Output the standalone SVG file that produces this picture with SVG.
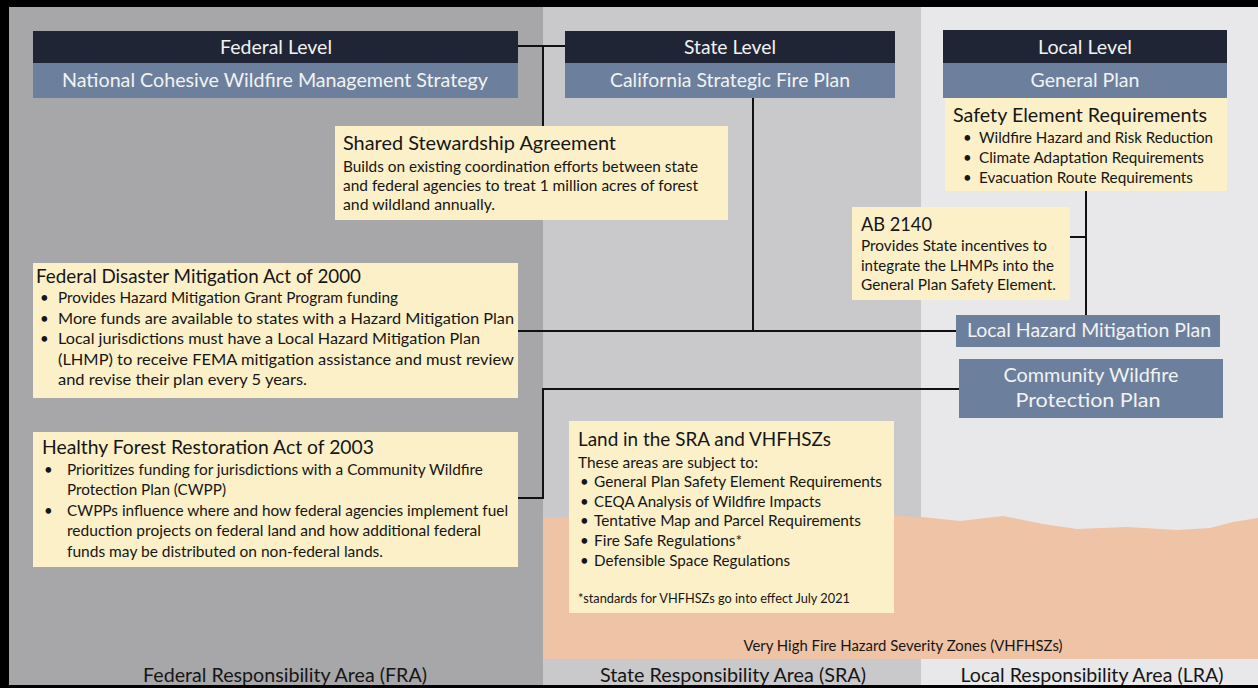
<svg xmlns="http://www.w3.org/2000/svg" width="1258" height="688" viewBox="0 0 1258 688">
<style>
text{font-family:Lato,"Open Sans","Liberation Sans",sans-serif;fill:#161616}
.hd{font-size:20px;fill:#f2f2f2;text-anchor:middle}
.bl{font-size:19.5px;fill:#f2f2f2;text-anchor:middle}
.ttl{font-size:20px}
.bd{font-size:15px}
.ft{font-size:12.5px}
.bot{font-size:18.5px;text-anchor:middle}
.vh{font-size:14.5px;text-anchor:middle}
.dark{fill:#1f2535}
.blue{fill:#6c809d}
.yel{fill:#fcf0c8}
.con{fill:none;stroke:#111;stroke-width:2}
</style>
<g id="background">
<rect x="0" y="0" width="1258" height="688" fill="#e8e8ea"/>
<rect x="9" y="7" width="534" height="678" fill="#a7a6a8"/>
<rect x="543" y="7" width="378" height="678" fill="#c9c9cc"/>
<rect x="921" y="7" width="337" height="678" fill="#e8e8ea"/>
<path d="M543,518 L570,517 L895,516 L922,517 L960,521 L1003,516 L1043,524 L1077,529 L1127,527 L1177,530 L1210,528 L1233,522 L1258,518 L1258,659 L543,659 Z" fill="#efc3a5"/>
<rect x="0" y="0" width="1258" height="7" fill="#000"/>
<rect x="0" y="0" width="9" height="688" fill="#000"/>
<rect x="0" y="685" width="1258" height="3" fill="#000"/>
<text class="vh" x="903" y="651" textLength="319" lengthAdjust="spacingAndGlyphs">Very High Fire Hazard Severity Zones (VHFHSZs)</text>
<text class="bot" x="285" y="682" textLength="284" lengthAdjust="spacingAndGlyphs">Federal Responsibility Area (FRA)</text>
<text class="bot" x="733" y="682" textLength="266" lengthAdjust="spacingAndGlyphs">State Responsibility Area (SRA)</text>
<text class="bot" x="1092" y="682" textLength="263" lengthAdjust="spacingAndGlyphs">Local Responsibility Area (LRA)</text>
</g>
<g id="connectors">
<polyline class="con" points="518,46 565,46"/>
<polyline class="con" points="543,46 543,126"/>
<polyline class="con" points="753,97 753,331"/>
<polyline class="con" points="518,331 956,331"/>
<polyline class="con" points="1086,191 1086,315"/>
<polyline class="con" points="1070,237 1086,237"/>
<polyline class="con" points="959,389 543,389 543,498 518,498"/>
</g>
<g id="federal-level">
<rect class="dark" x="33" y="31" width="485" height="32"/>
<rect class="blue" x="33" y="63" width="485" height="35"/>
<text class="hd" x="276" y="54" textLength="112" lengthAdjust="spacingAndGlyphs">Federal Level</text>
<text class="hd" x="275" y="87" textLength="426" lengthAdjust="spacingAndGlyphs">National Cohesive Wildfire Management Strategy</text>
</g>
<g id="state-level">
<rect class="dark" x="565" y="31" width="330" height="32"/>
<rect class="blue" x="565" y="63" width="330" height="35"/>
<text class="hd" x="730" y="54" textLength="92" lengthAdjust="spacingAndGlyphs">State Level</text>
<text class="hd" x="730" y="87" textLength="240" lengthAdjust="spacingAndGlyphs">California Strategic Fire Plan</text>
</g>
<g id="local-level">
<rect class="dark" x="943" y="30" width="284" height="33"/>
<rect class="blue" x="943" y="63" width="284" height="35"/>
<text class="hd" x="1085" y="54" textLength="94" lengthAdjust="spacingAndGlyphs">Local Level</text>
<text class="hd" x="1085" y="87" textLength="109" lengthAdjust="spacingAndGlyphs">General Plan</text>
</g>
<g id="safety-element">
<rect class="yel" x="945" y="98" width="282" height="93"/>
<text class="ttl" x="953" y="122" textLength="254" lengthAdjust="spacingAndGlyphs">Safety Element Requirements</text>
<text class="bd" x="963" y="143">•</text>
<text class="bd" x="979" y="143" textLength="234" lengthAdjust="spacingAndGlyphs">Wildfire Hazard and Risk Reduction</text>
<text class="bd" x="963" y="163">•</text>
<text class="bd" x="979" y="163" textLength="225" lengthAdjust="spacingAndGlyphs">Climate Adaptation Requirements</text>
<text class="bd" x="963" y="183">•</text>
<text class="bd" x="979" y="183" textLength="214" lengthAdjust="spacingAndGlyphs">Evacuation Route Requirements</text>
</g>
<g id="shared-stewardship">
<rect class="yel" x="335" y="126" width="393" height="94"/>
<text class="ttl" x="343" y="150" textLength="273" lengthAdjust="spacingAndGlyphs">Shared Stewardship Agreement</text>
<text class="bd" x="343" y="172" textLength="355" lengthAdjust="spacingAndGlyphs">Builds on existing coordination efforts between state</text>
<text class="bd" x="343" y="191" textLength="355" lengthAdjust="spacingAndGlyphs">and federal agencies to treat 1 million acres of forest</text>
<text class="bd" x="343" y="210" textLength="152" lengthAdjust="spacingAndGlyphs">and wildland annually.</text>
</g>
<g id="ab2140">
<rect class="yel" x="852" y="207" width="218" height="93"/>
<text class="ttl" x="861" y="231" textLength="71" lengthAdjust="spacingAndGlyphs">AB 2140</text>
<text class="bd" x="861" y="251" textLength="186" lengthAdjust="spacingAndGlyphs">Provides State incentives to</text>
<text class="bd" x="861" y="271" textLength="193" lengthAdjust="spacingAndGlyphs">integrate the LHMPs into the</text>
<text class="bd" x="861" y="290" textLength="195" lengthAdjust="spacingAndGlyphs">General Plan Safety Element.</text>
</g>
<g id="lhmp">
<rect class="blue" x="956" y="315" width="264" height="32"/>
<text class="bl" x="1089" y="337" textLength="244" lengthAdjust="spacingAndGlyphs">Local Hazard Mitigation Plan</text>
</g>
<g id="cwpp">
<rect class="blue" x="959" y="359" width="264" height="59"/>
<text class="bl" x="1091" y="382" textLength="175" lengthAdjust="spacingAndGlyphs">Community Wildfire</text>
<text class="bl" x="1088" y="407" textLength="145" lengthAdjust="spacingAndGlyphs">Protection Plan</text>
</g>
<g id="fdma">
<rect class="yel" x="33" y="263" width="485" height="135"/>
<text class="ttl" x="36" y="283" textLength="325" lengthAdjust="spacingAndGlyphs">Federal Disaster Mitigation Act of 2000</text>
<text class="bd" x="40" y="303">•</text>
<text class="bd" x="58" y="303" textLength="340" lengthAdjust="spacingAndGlyphs">Provides Hazard Mitigation Grant Program funding</text>
<text class="bd" x="40" y="323.5">•</text>
<text class="bd" x="58" y="323.5" textLength="456" lengthAdjust="spacingAndGlyphs">More funds are available to states with a Hazard Mitigation Plan</text>
<text class="bd" x="40" y="344">•</text>
<text class="bd" x="58" y="344" textLength="422" lengthAdjust="spacingAndGlyphs">Local jurisdictions must have a Local Hazard Mitigation Plan</text>
<text class="bd" x="58" y="364.5" textLength="456" lengthAdjust="spacingAndGlyphs">(LHMP) to receive FEMA mitigation assistance and must review</text>
<text class="bd" x="58" y="385" textLength="249" lengthAdjust="spacingAndGlyphs">and revise their plan every 5 years.</text>
</g>
<g id="hfra">
<rect class="yel" x="33" y="432" width="485" height="135"/>
<text class="ttl" x="42" y="454" textLength="332" lengthAdjust="spacingAndGlyphs">Healthy Forest Restoration Act of 2003</text>
<text class="bd" x="44" y="474.5">•</text>
<text class="bd" x="67" y="474.5" textLength="416" lengthAdjust="spacingAndGlyphs">Prioritizes funding for jurisdictions with a Community Wildfire</text>
<text class="bd" x="67" y="495" textLength="159" lengthAdjust="spacingAndGlyphs">Protection Plan (CWPP)</text>
<text class="bd" x="44" y="515.5">•</text>
<text class="bd" x="67" y="515.5" textLength="441" lengthAdjust="spacingAndGlyphs">CWPPs influence where and how federal agencies implement fuel</text>
<text class="bd" x="67" y="536" textLength="414" lengthAdjust="spacingAndGlyphs">reduction projects on federal land and how additional federal</text>
<text class="bd" x="67" y="556.5" textLength="316" lengthAdjust="spacingAndGlyphs">funds may be distributed on non-federal lands.</text>
</g>
<g id="land-sra">
<rect class="yel" x="569" y="421" width="325" height="192"/>
<text class="ttl" x="578" y="446" textLength="253" lengthAdjust="spacingAndGlyphs">Land in the SRA and VHFHSZs</text>
<text class="bd" x="578" y="468" textLength="180" lengthAdjust="spacingAndGlyphs">These areas are subject to:</text>
<text class="bd" x="580" y="487">•</text>
<text class="bd" x="594" y="487" textLength="288" lengthAdjust="spacingAndGlyphs">General Plan Safety Element Requirements</text>
<text class="bd" x="580" y="507">•</text>
<text class="bd" x="594" y="507" textLength="227" lengthAdjust="spacingAndGlyphs">CEQA Analysis of Wildfire Impacts</text>
<text class="bd" x="580" y="526">•</text>
<text class="bd" x="594" y="526" textLength="267" lengthAdjust="spacingAndGlyphs">Tentative Map and Parcel Requirements</text>
<text class="bd" x="580" y="546">•</text>
<text class="bd" x="594" y="546" textLength="148" lengthAdjust="spacingAndGlyphs">Fire Safe Regulations*</text>
<text class="bd" x="580" y="566">•</text>
<text class="bd" x="594" y="566" textLength="196" lengthAdjust="spacingAndGlyphs">Defensible Space Regulations</text>
<text class="ft" x="578" y="603" textLength="272" lengthAdjust="spacingAndGlyphs">*standards for VHFHSZs go into effect July 2021</text>
</g>
</svg>
